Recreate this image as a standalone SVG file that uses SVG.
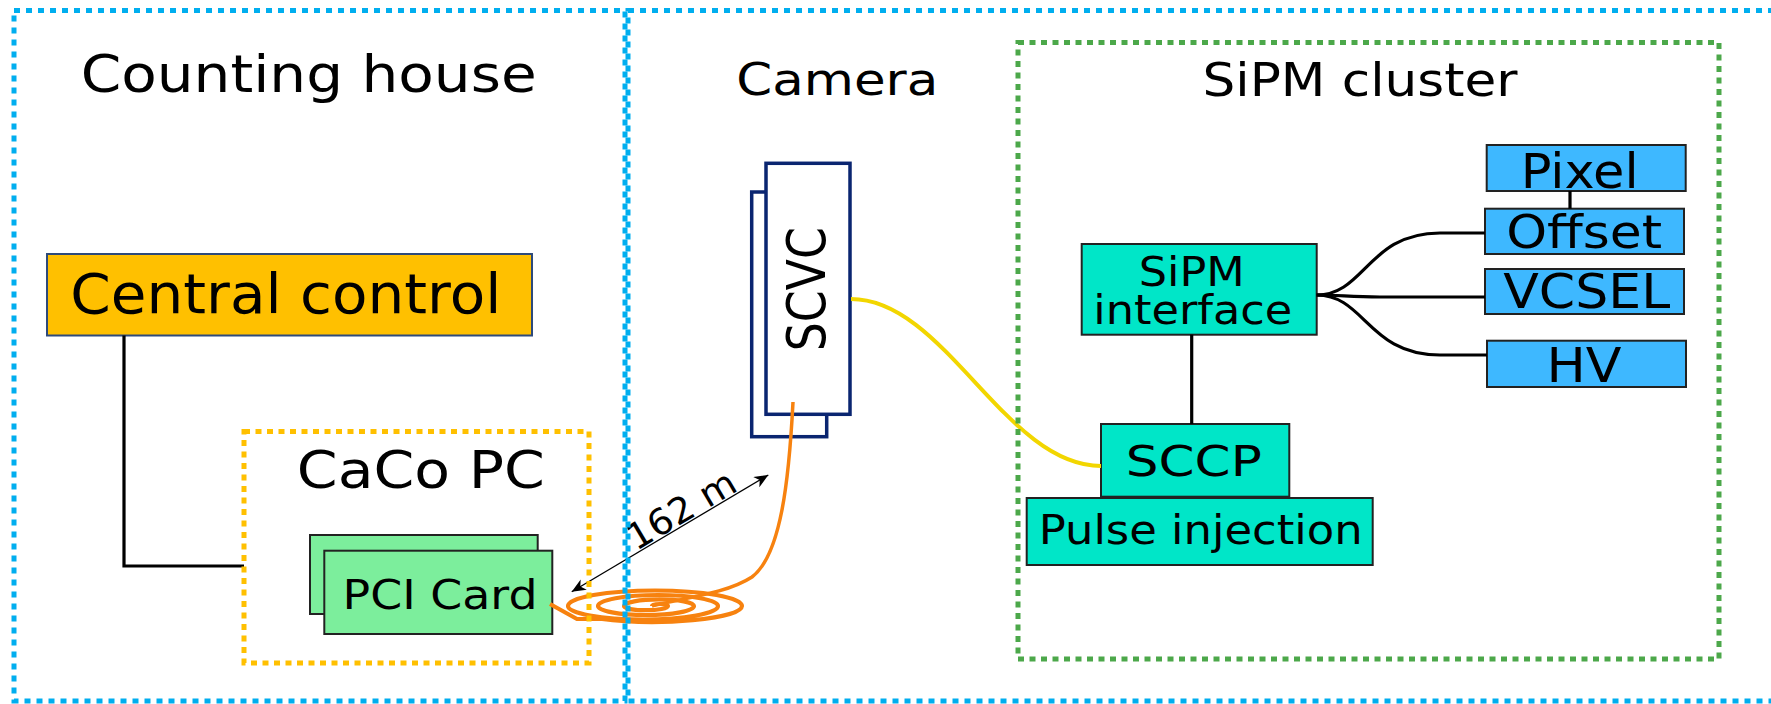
<svg xmlns="http://www.w3.org/2000/svg" width="1771" height="704" viewBox="0 0 1771 704">
  <style>
    text { font-family: "DejaVu Sans", "Liberation Sans", sans-serif; fill: #000; text-anchor: middle; }
    .frame { fill: none; stroke-width: 5; }
    .site { stroke: #00AEEF; stroke-dasharray: 6 6; }
    .pc { stroke: #FFC000; stroke-dasharray: 6 5.5; }
    .cluster { stroke: #4CA84A; stroke-dasharray: 6 5.5; }
    .box { stroke: #222; stroke-width: 2; }
    .ctrl { fill: #FFC000; stroke: #2E4A7A; stroke-width: 2; }
    .card { fill: #7CEE9C; }
    .board { fill: #00E6C8; }
    .module { fill: #3EB8FF; }
    .scvc { fill: #fff; stroke: #0A2570; stroke-width: 3.5; }
    .wire { fill: none; stroke: #000; stroke-width: 3.2; }
    .fibre { fill: none; stroke: #F2D600; stroke-width: 4; }
    .cable { fill: none; stroke: #F7820F; stroke-width: 3.5; stroke-linejoin: round; }
    .coil { stroke-width: 4.2; }
    .dim { fill: none; stroke: #000; stroke-width: 1.3; }
  </style>
  <defs>
    <marker id="arrow" viewBox="0 0 14 12" refX="14" refY="6" markerWidth="14" markerHeight="12" markerUnits="userSpaceOnUse" orient="auto-start-reverse">
      <path d="M14,6 L0,0 L4,6 L0,12 Z" fill="#000"/>
    </marker>
  </defs>

  <rect width="1771" height="704" fill="#fff"/>

  <!-- nodes -->
  <g id="central-control">
    <rect class="ctrl" x="47" y="254" width="485" height="81.5"/>
    <text x="285.8" y="312.7" font-size="56" textLength="431" lengthAdjust="spacingAndGlyphs">Central control</text>
  </g>
  <g id="pci-card">
    <rect class="box card" x="310" y="535" width="227.7" height="79"/>
    <rect class="box card" x="324.3" y="550.7" width="228" height="83.3"/>
    <text x="440" y="609" font-size="41" textLength="195" lengthAdjust="spacingAndGlyphs">PCI Card</text>
  </g>
  <g id="scvc">
    <rect class="scvc" x="751.7" y="192" width="75" height="244.7"/>
    <rect class="scvc" x="766" y="163.3" width="84" height="251"/>
    <text transform="translate(825,289.2) rotate(-90)" font-size="54" textLength="124" lengthAdjust="spacingAndGlyphs">SCVC</text>
  </g>
  <g id="sipm-interface">
    <rect class="box board" x="1081.7" y="244" width="235" height="90.7"/>
    <text font-size="40"><tspan x="1191.8" y="285.5" textLength="106" lengthAdjust="spacingAndGlyphs">SiPM</tspan><tspan x="1192.8" y="323.5" textLength="199" lengthAdjust="spacingAndGlyphs">interface</tspan></text>
  </g>
  <g id="sccp">
    <rect class="box board" x="1101" y="424" width="188.3" height="72.7"/>
    <text x="1193.8" y="476" font-size="43" textLength="136" lengthAdjust="spacingAndGlyphs">SCCP</text>
  </g>
  <g id="pulse-injection">
    <rect class="box board" x="1026.7" y="498" width="346" height="67"/>
    <text x="1200.7" y="544" font-size="40" textLength="324" lengthAdjust="spacingAndGlyphs">Pulse injection</text>
  </g>
  <g id="pixel">
    <rect class="box module" x="1486.7" y="145" width="199" height="46"/>
    <text x="1579.7" y="188.3" font-size="48" textLength="118" lengthAdjust="spacingAndGlyphs">Pixel</text>
  </g>
  <g id="offset">
    <rect class="box module" x="1485" y="208.7" width="199" height="45.3"/>
    <text x="1584.2" y="248.3" font-size="47" textLength="156" lengthAdjust="spacingAndGlyphs">Offset</text>
  </g>
  <g id="vcsel">
    <rect class="box module" x="1485" y="269" width="199" height="45"/>
    <text x="1586.7" y="308.3" font-size="48" textLength="167" lengthAdjust="spacingAndGlyphs">VCSEL</text>
  </g>
  <g id="hv">
    <rect class="box module" x="1487" y="340.7" width="199" height="46.3"/>
    <text x="1584" y="381.7" font-size="48" textLength="75" lengthAdjust="spacingAndGlyphs">HV</text>
  </g>

  <!-- connectors -->
  <g id="connectors">
    <path class="wire" d="M124,335.5 V566 H244"/>
    <path class="wire" d="M1191.7,334.7 V424"/>
    <path class="wire" d="M1570,191 V208.7"/>
    <path class="wire" d="M1316.7,295 C1365,295 1368,233 1440,233 L1485,233"/>
    <path class="wire" d="M1316.7,295 C1340,295 1350,297 1380,297 L1485,297"/>
    <path class="wire" d="M1316.7,295 C1365,295 1368,355 1440,355 L1487,355"/>
    <!-- optical fibre SCVC to SCCP -->
    <path class="fibre" d="M851,299 C945,299 1005,466 1101,466"/>
    <!-- coiled cable from SCVC to PCI card -->
    <path class="cable" d="M793,402 C789,480 781,555 752,577 C726,594 682,598 652,606"/>
    <path class="cable coil" d="M652,606 A8,2 0 0 1 668,606 A22,4.2 0 0 1 624,606 A35,6.6 0 0 1 694,606 A48,9 0 0 1 598,606 A60,11 0 0 1 718,606 A75,13.5 0 0 1 568,606 A87,15.5 0 0 1 742,606 A89,16 0 0 1 600,618.7 L577,619 L550,604"/>
    <!-- cable length -->
    <path class="dim" d="M571.7,591.7 L768.3,475" marker-start="url(#arrow)" marker-end="url(#arrow)"/>
    <text transform="translate(687.7,520.5) rotate(-30.7)" font-size="36" textLength="120" lengthAdjust="spacingAndGlyphs">162 m</text>
  </g>

  <!-- enclosing areas -->
  <g id="counting-house">
    <rect class="frame site" x="14" y="10.5" width="611" height="690.5"/>
    <text x="308.7" y="92.3" font-size="52" textLength="456" lengthAdjust="spacingAndGlyphs">Counting house</text>
  </g>
  <g id="camera">
    <rect class="frame site" x="628" y="10.5" width="1200" height="690.5"/>
    <text x="837.3" y="95.3" font-size="44" textLength="202" lengthAdjust="spacingAndGlyphs">Camera</text>
  </g>
  <g id="caco-pc">
    <rect class="frame pc" x="244" y="431.5" width="345" height="231.5"/>
    <text x="420.8" y="488.3" font-size="51" textLength="248" lengthAdjust="spacingAndGlyphs">CaCo PC</text>
  </g>
  <g id="sipm-cluster">
    <rect class="frame cluster" x="1018" y="42.5" width="701" height="616.5"/>
    <text x="1360" y="96" font-size="47" textLength="315" lengthAdjust="spacingAndGlyphs">SiPM cluster</text>
  </g>
</svg>
